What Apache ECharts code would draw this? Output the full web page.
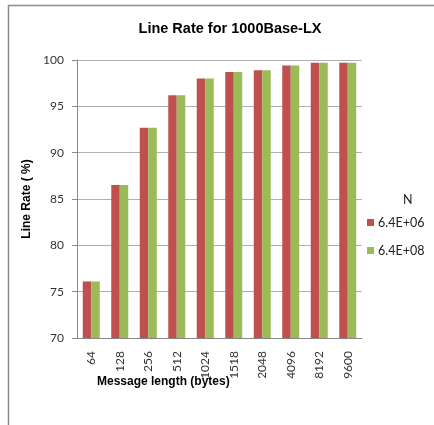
<!DOCTYPE html>
<html>
<head>
<meta charset="utf-8">
<script src="https://cdn.jsdelivr.net/npm/echarts@6/dist/echarts.min.js"></script>
<style>
  html, body { margin: 0; padding: 0; background: #fff; }
  #chart { width: 434px; height: 425px; }
</style>
</head>
<body>
<div id="chart"></div>
<script>
// Message sizes (bytes) on the category axis
const messageLengths = ['64', '128', '256', '512', '1024', '1518', '2048', '4096', '8192', '9600'];
// Line rate (%) for each N
const rateN1 = [76.1, 86.5, 92.7, 96.2, 98.0, 98.7, 98.9, 99.4, 99.7, 99.7];
const rateN2 = [76.1, 86.5, 92.7, 96.2, 98.0, 98.7, 98.9, 99.4, 99.7, 99.7];
const seriesNames = ['6.4E+06', '6.4E+08'];
const yTicks = { min: 70, max: 100, step: 5 };

const chart = echarts.init(document.getElementById('chart'), null, { renderer: 'canvas' });

const tickFont = 'Lato, "Open Sans", sans-serif';
const boldFont = '"Liberation Sans", Arial, sans-serif';

chart.setOption({
  animation: false,
  backgroundColor: '#ffffff',
  title: {
    text: 'Line Rate for 1000Base-LX',
    left: 225,
    top: 16,
    textAlign: 'center',
    textStyle: { fontFamily: boldFont, fontWeight: 'bold', fontSize: 14.5, color: '#000' }
  },
  legend: {
    orient: 'vertical',
    left: 362,
    top: 211,
    itemWidth: 7,
    itemHeight: 7,
    itemGap: 15,
    icon: 'rect',
    data: seriesNames,
    textStyle: { fontFamily: tickFont, fontSize: 12.5, color: '#222', padding: [0, 0, 0, -1] }
  },
  grid: { left: 77, top: 60, right: 72, bottom: 87, containLabel: false },
  xAxis: {
    type: 'category',
    data: messageLengths,
    axisLine: { lineStyle: { color: '#888', width: 1 } },
    axisTick: { show: false },
    axisLabel: {
      rotate: 90,
      margin: 13,
      fontFamily: tickFont,
      fontSize: 12,
      color: '#333'
    }
  },
  yAxis: {
    type: 'value',
    min: yTicks.min,
    max: yTicks.max,
    interval: yTicks.step,
    axisLine: { show: true, lineStyle: { color: '#888', width: 1 } },
    axisTick: { show: true, inside: false, length: 5, lineStyle: { color: '#888' } },
    splitLine: { show: true, lineStyle: { color: '#b0b0b0', width: 1 } },
    axisLabel: { margin: 13, fontFamily: tickFont, fontSize: 12, color: '#333' },
    name: 'Line Rate ( %)',
    nameLocation: 'middle',
    nameGap: 40,
    nameRotate: 90,
    nameTextStyle: { fontFamily: boldFont, fontWeight: 'bold', fontSize: 12, color: '#000' }
  },
  graphic: [
    {
      type: 'rect',
      shape: { x: 8.5, y: 5.5, width: 440, height: 440 },
      style: { fill: null, stroke: '#8c8c8c', lineWidth: 1.5 },
      silent: true
    },
    {
      type: 'text',
      left: 97,
      top: 376,
      style: {
        text: 'Message length (bytes)',
        font: 'bold 12px "Liberation Sans", Arial, sans-serif',
        fill: '#000'
      }
    },
    {
      type: 'text',
      left: 403,
      top: 193,
      style: {
        text: 'N',
        font: '12.5px Lato, "Open Sans", sans-serif',
        fill: '#222'
      }
    }
  ],
  series: [
    {
      name: seriesNames[0],
      type: 'bar',
      data: rateN1,
      barWidth: 8.5,
      barGap: '0%',
      itemStyle: { color: '#C0504D' }
    },
    {
      name: seriesNames[1],
      type: 'bar',
      data: rateN2,
      barWidth: 8.5,
      barGap: '0%',
      itemStyle: { color: '#9BBB59' }
    }
  ]
});
</script>
</body>
</html>
